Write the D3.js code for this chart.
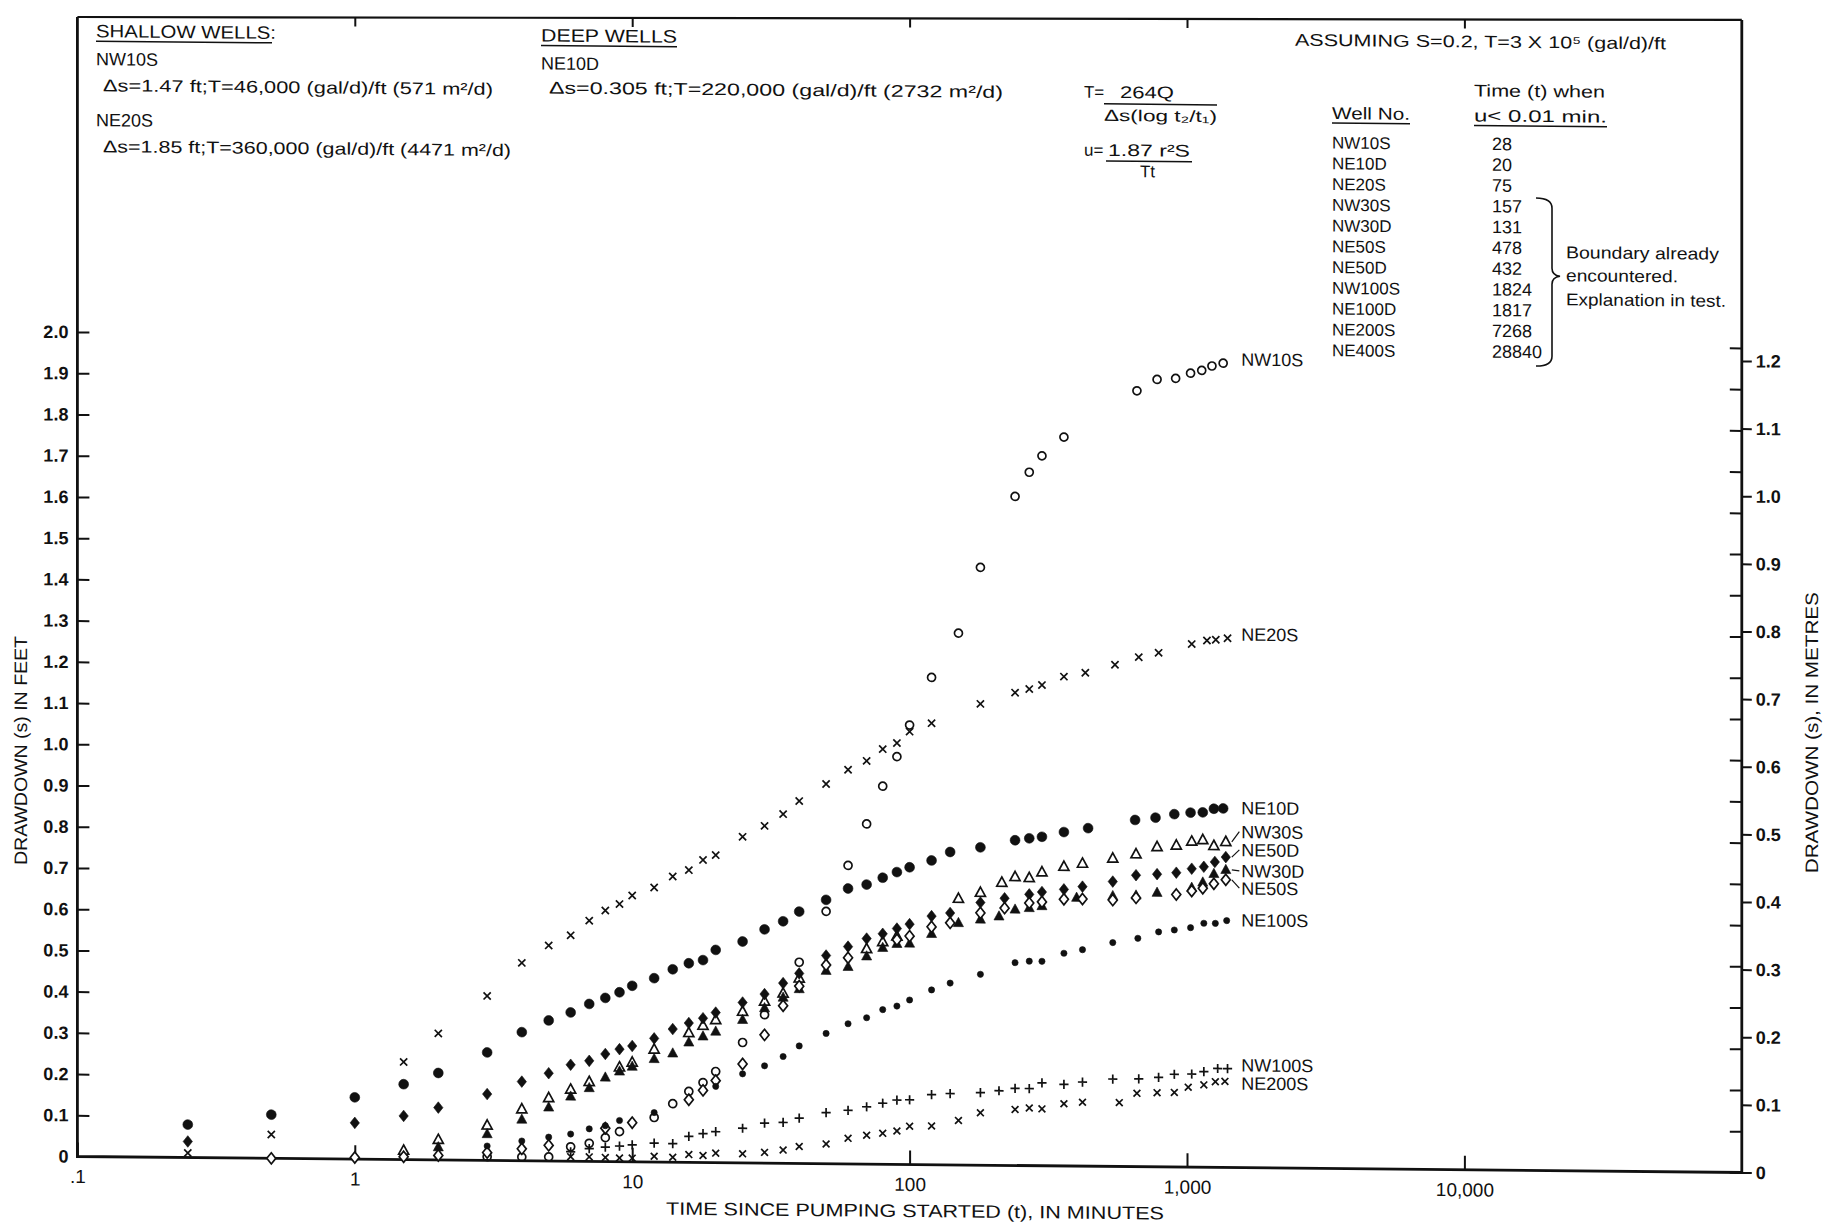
<!DOCTYPE html>
<html>
<head>
<meta charset="utf-8">
<script src="https://cdn.jsdelivr.net/npm/d3@7"></script>
<style>
  body { margin: 0; background: #fff; }
  svg text { font-family: "Liberation Sans", Arial, "DejaVu Sans", sans-serif; fill: #111; }
</style>
</head>
<body>
<div id="chart"></div>
<script>
// ---- data: [time (min), drawdown (ft)] ----
const nw10sData = [[3,0.009],[4,0.009],[5,0.010],[6,0.035],[7,0.044],[8,0.058],[9,0.073],[12,0.108],[14,0.142],[16,0.172],[18,0.194],[20,0.221],[25,0.292],[30,0.360],[40,0.488],[50,0.612],[60,0.724],[70,0.825],[80,0.917],[90,0.989],[100,1.066],[120,1.182],[150,1.290],[180,1.450],[240,1.623],[270,1.682],[300,1.722],[360,1.768],[660,1.882],[780,1.910],[910,1.913],[1030,1.926],[1130,1.933],[1230,1.944],[1350,1.951]];

const ne20sData = [[0.25,0.011],[0.5,0.058],[1.5,0.237],[2,0.307],[3,0.399],[4,0.480],[5,0.523],[6,0.548],[7,0.584],[8,0.609],[9,0.625],[10,0.646],[12,0.666],[14,0.693],[16,0.709],[18,0.734],[20,0.746],[25,0.791],[30,0.818],[35,0.847],[40,0.879],[50,0.921],[60,0.956],[70,0.978],[80,1.007],[90,1.022],[100,1.050],[120,1.071],[180,1.119],[240,1.147],[270,1.156],[300,1.166],[360,1.187],[430,1.197],[550,1.217],[670,1.236],[790,1.247],[1040,1.269],[1180,1.278],[1270,1.280],[1400,1.284]];

const ne10dData = [[0.25,0.080],[0.5,0.106],[1,0.150],[1.5,0.183],[2,0.211],[3,0.262],[4,0.312],[5,0.341],[6,0.361],[7,0.382],[8,0.397],[9,0.411],[10,0.427],[12,0.446],[14,0.468],[16,0.483],[18,0.491],[20,0.516],[25,0.537],[30,0.567],[35,0.587],[40,0.611],[50,0.640],[60,0.668],[70,0.678],[80,0.695],[90,0.709],[100,0.721],[120,0.738],[140,0.759],[180,0.771],[240,0.789],[270,0.794],[300,0.798],[360,0.810],[440,0.820],[650,0.841],[770,0.847],[900,0.856],[1030,0.860],[1140,0.861],[1250,0.870],[1350,0.871]];

const nw30sData = [[1.5,0.022],[2,0.049],[3,0.085],[4,0.125],[5,0.153],[6,0.174],[7,0.193],[9,0.229],[10,0.241],[12,0.273],[16,0.314],[18,0.332],[20,0.346],[25,0.367],[30,0.392],[35,0.412],[40,0.449],[70,0.522],[80,0.539],[90,0.553],[150,0.646],[180,0.661],[215,0.686],[240,0.700],[270,0.698],[300,0.712],[360,0.726],[420,0.734],[540,0.747],[655,0.758],[780,0.776],[915,0.780],[1040,0.790],[1140,0.794],[1250,0.780],[1380,0.790]];

const nw30dData = [[2,0.031],[3,0.064],[4,0.100],[5,0.130],[6,0.157],[7,0.178],[8,0.204],[9,0.219],[10,0.231],[12,0.250],[14,0.264],[16,0.291],[18,0.306],[20,0.318],[25,0.347],[30,0.376],[35,0.402],[40,0.423],[50,0.468],[60,0.478],[70,0.504],[80,0.525],[90,0.535],[100,0.536],[120,0.560],[150,0.587],[180,0.596],[210,0.604],[240,0.621],[270,0.625],[300,0.630],[400,0.651],[540,0.656],[655,0.658],[780,0.665],[1040,0.678],[1140,0.691],[1250,0.712],[1380,0.722]];

const ne50dData = [[0.25,0.039],[1,0.088],[1.5,0.106],[2,0.127],[3,0.161],[4,0.192],[5,0.213],[6,0.234],[7,0.244],[8,0.261],[9,0.273],[10,0.281],[12,0.300],[14,0.323],[16,0.338],[18,0.350],[20,0.364],[25,0.389],[30,0.410],[35,0.437],[40,0.461],[50,0.505],[60,0.527],[70,0.547],[80,0.559],[90,0.572],[100,0.583],[120,0.603],[140,0.611],[180,0.637],[220,0.648],[270,0.658],[300,0.664],[360,0.671],[420,0.678],[540,0.691],[655,0.707],[780,0.710],[915,0.714],[1040,0.724],[1150,0.729],[1260,0.741],[1380,0.753]];

const ne50sData = [[0.5,0.0],[1,0.004],[1.5,0.007],[2,0.011],[3,0.019],[4,0.029],[5,0.038],[8,0.081],[10,0.095],[16,0.152],[18,0.175],[20,0.199],[25,0.240],[30,0.311],[35,0.382],[40,0.430],[50,0.482],[60,0.500],[90,0.545],[100,0.554],[120,0.577],[140,0.587],[180,0.612],[220,0.624],[270,0.637],[300,0.640],[360,0.647],[420,0.648],[540,0.646],[655,0.652],[915,0.661],[1040,0.670],[1140,0.677],[1250,0.688],[1380,0.698]];

const ne100sData = [[3,0.035],[4,0.048],[5,0.058],[6,0.066],[7,0.079],[8,0.087],[9,0.100],[12,0.120],[20,0.185],[25,0.216],[30,0.236],[35,0.259],[40,0.285],[50,0.316],[60,0.340],[70,0.355],[80,0.375],[90,0.384],[100,0.399],[120,0.424],[140,0.441],[180,0.463],[240,0.492],[270,0.496],[300,0.496],[360,0.516],[420,0.525],[540,0.543],[665,0.554],[790,0.570],[900,0.575],[1030,0.581],[1150,0.592],[1265,0.592],[1390,0.599]];

const nw100sData = [[6,0.023],[7,0.031],[8,0.035],[9,0.038],[10,0.041],[12,0.046],[14,0.045],[16,0.063],[18,0.070],[20,0.075],[25,0.084],[30,0.097],[35,0.099],[40,0.110],[50,0.124],[60,0.130],[70,0.139],[80,0.148],[90,0.156],[100,0.157],[120,0.170],[140,0.173],[180,0.176],[210,0.181],[240,0.187],[270,0.187],[300,0.201],[360,0.198],[420,0.204],[540,0.212],[670,0.213],[790,0.217],[900,0.225],[1040,0.226],[1150,0.232],[1290,0.240],[1400,0.240]];

const ne200sData = [[6,0.011],[7,0.011],[8,0.010],[9,0.009],[10,0.009],[12,0.014],[14,0.012],[16,0.019],[18,0.017],[20,0.023],[25,0.022],[30,0.026],[35,0.032],[40,0.041],[50,0.048],[60,0.062],[70,0.070],[80,0.075],[90,0.081],[100,0.093],[120,0.094],[150,0.108],[180,0.127],[240,0.136],[270,0.140],[300,0.138],[360,0.151],[420,0.155],[570,0.155],[660,0.178],[780,0.180],[900,0.181],[1010,0.194],[1150,0.200],[1265,0.208],[1370,0.209]];

// curve labels at the right end, and the drawdown level each label sits at
const seriesNames = ["NW10S", "NE20S", "NE10D", "NW30S", "NE50D", "NW30D", "NE50S", "NE100S", "NW100S", "NE200S"];
const labelLevels = [1.961, 1.294, 0.873, 0.815, 0.771, 0.720, 0.678, 0.601, 0.249, 0.205];

// table of times when u < 0.01
const wellNos = ["NW10S", "NE10D", "NE20S", "NW30S", "NW30D", "NE50S", "NE50D", "NW100S", "NE100D", "NE200S", "NE400S"];
const uTimes = ["28", "20", "75", "157", "131", "478", "432", "1824", "1817", "7268", "28840"];

// tick values and labels
const timeTicks = [0.1, 1, 10, 100, 1000, 10000];
const timeTickLabels = [".1", "1", "10", "100", "1,000", "10,000"];
const feetTicks = d3.range(0, 21).map(i => i / 10);
const metreTicks = d3.range(0, 13).map(i => i / 10);

// ---- svg ----
let width = 1839, height = 1226;
let svg = d3.select("#chart")
  .append("svg")
  .attr("width", width)
  .attr("height", height);

svg.append("rect").attr("width", width).attr("height", height).attr("fill", "white");

// the scanned sheet is slightly sheared, right side lower
let g = svg.append("g")
  .attr("transform", "translate(77,0) skewY(0.55) translate(-77,0)");
// the top border is almost level on the scan
let gTop = svg.append("g")
  .attr("transform", "translate(77,0) skewY(0.1) translate(-77,0)");

// scales
let x = d3.scaleLog()
  .domain([0.1, 100000])
  .range([77.4, 1741.8]);

let y = d3.scaleLinear()
  .domain([0, 2])
  .range([1156.5, 332]);

// metre scale as it is drawn on the sheet
let yM = d3.scaleLinear()
  .domain([0, 1.2])
  .range([y(0), y(1.2 * 1.6404)]);

let topY = 17;
let left = x.range()[0], right = x.range()[1];
let rightTop = topY + Math.tan(0.1 * Math.PI / 180) * (right - 77) - Math.tan(0.55 * Math.PI / 180) * (right - 77);

// frame: left, right and bottom lines
g.append("path")
  .attr("d", `M${left},${topY}L${left},${y(0)}L${right},${y(0)}L${right},${rightTop}`)
  .attr("fill", "none")
  .attr("stroke", "#111")
  .attr("stroke-width", 2.8);

// top border with short decade ticks
gTop.append("line")
  .attr("x1", left).attr("x2", right)
  .attr("y1", topY).attr("y2", topY)
  .attr("stroke", "#111")
  .attr("stroke-width", 2.2);

let xAxisTop = gTop.append("g")
  .attr("transform", `translate(0,${topY})`)
  .call(d3.axisTop(x).tickValues(timeTicks.slice(1)).tickSize(-9).tickFormat(""));
xAxisTop.select(".domain").remove();
xAxisTop.selectAll("line").attr("stroke", "#111").attr("stroke-width", 2);

// left axis (feet)
let yAxisL = g.append("g")
  .attr("transform", `translate(${left},0)`)
  .call(d3.axisLeft(y).tickValues(feetTicks).tickSize(-12).tickPadding(9)
    .tickFormat(d => d === 0 ? "0" : d.toFixed(1)));
yAxisL.select(".domain").remove();
yAxisL.selectAll("line").attr("stroke", "#111").attr("stroke-width", 2);
yAxisL.selectAll("text").style("font-size", "18px").style("font-weight", "bold");

// right axis: inner feet ticks and outer metre ticks
let yAxisRin = g.append("g")
  .attr("transform", `translate(${right},0)`)
  .call(d3.axisLeft(y).tickValues(feetTicks).tickSize(12).tickFormat(""));
yAxisRin.select(".domain").remove();
yAxisRin.selectAll("line").attr("stroke", "#111").attr("stroke-width", 2);

let yAxisR = g.append("g")
  .attr("transform", `translate(${right},0)`)
  .call(d3.axisRight(yM).tickValues(metreTicks).tickSize(10).tickPadding(4)
    .tickFormat(d => d === 0 ? "0" : d.toFixed(1)));
yAxisR.select(".domain").remove();
yAxisR.selectAll("line").attr("stroke", "#111").attr("stroke-width", 2);
yAxisR.selectAll("text").style("font-size", "18px").style("font-weight", "bold");

// bottom axis (log time)
let xAxis = g.append("g")
  .attr("transform", `translate(0,${y(0)})`)
  .call(d3.axisBottom(x).tickValues(timeTicks).tickSize(-14).tickPadding(13)
    .tickFormat((d, i) => timeTickLabels[i]));
xAxis.select(".domain").remove();
xAxis.selectAll("line").attr("stroke", "#111").attr("stroke-width", 2);
xAxis.selectAll("text").style("font-size", "19px");

// axis titles
g.append("text")
  .attr("x", 915)
  .attr("y", 1209)
  .attr("text-anchor", "middle")
  .attr("textLength", 498)
  .attr("lengthAdjust", "spacingAndGlyphs")
  .style("font-size", "18px")
  .text("TIME SINCE PUMPING STARTED (t), IN MINUTES");

g.append("text")
  .attr("transform", "rotate(-90)")
  .attr("x", -751)
  .attr("y", 27)
  .attr("text-anchor", "middle")
  .attr("textLength", 229)
  .attr("lengthAdjust", "spacingAndGlyphs")
  .style("font-size", "18px")
  .text("DRAWDOWN (s) IN FEET");

g.append("text")
  .attr("transform", "rotate(-90)")
  .attr("x", -716)
  .attr("y", 1818)
  .attr("text-anchor", "middle")
  .attr("textLength", 281)
  .attr("lengthAdjust", "spacingAndGlyphs")
  .style("font-size", "18px")
  .text("DRAWDOWN (s), IN METRES");

// ---- markers ----
function markPath(shape, r) {
  if (shape === "circle") return d3.symbol(d3.symbolCircle, Math.PI * r * r)();
  if (shape === "triangle") return `M0,${-r}L${r * 0.9},${r * 0.65}L${-r * 0.9},${r * 0.65}Z`;
  if (shape === "diamond") return `M0,${-r}L${r * 0.8},0L0,${r}L${-r * 0.8},0Z`;
  if (shape === "x") return `M${-r},${-r}L${r},${r}M${-r},${r}L${r},${-r}`;
  if (shape === "plus") return `M${-r},0L${r},0M0,${-r}L0,${r}`;
}

const series = [
  {name: "NW10S", data: nw10sData, shape: "circle", r: 4, fill: "none"},
  {name: "NE20S", data: ne20sData, shape: "x", r: 3.6, fill: "none"},
  {name: "NE10D", data: ne10dData, shape: "circle", r: 4.9, fill: "#111"},
  {name: "NW30S", data: nw30sData, shape: "triangle", r: 5.6, fill: "white"},
  {name: "NE50D", data: ne50dData, shape: "diamond", r: 5.8, fill: "#111"},
  {name: "NW30D", data: nw30dData, shape: "triangle", r: 5.6, fill: "#111"},
  {name: "NE50S", data: ne50sData, shape: "diamond", r: 5.6, fill: "white"},
  {name: "NE100S", data: ne100sData, shape: "circle", r: 3.1, fill: "#111"},
  {name: "NW100S", data: nw100sData, shape: "plus", r: 4.6, fill: "none"},
  {name: "NE200S", data: ne200sData, shape: "x", r: 3.4, fill: "none"}
];

series.forEach(function(s) {
  g.append("g")
    .selectAll("path")
    .data(s.data)
    .enter()
    .append("path")
    .attr("transform", d => `translate(${x(d[0])},${y(d[1])})`)
    .attr("d", markPath(s.shape, s.r))
    .attr("fill", s.fill)
    .attr("stroke", "#111")
    .attr("stroke-width", s.fill === "#111" ? 0.6 : 1.7);
});

// curve labels with short leaders for the crowded group
let labelT = 1570;
seriesNames.forEach(function(name, i) {
  g.append("text")
    .attr("x", x(labelT))
    .attr("y", y(labelLevels[i]))
    .attr("dy", "0.36em")
    .style("font-size", "18px")
    .text(name);
});

["NW30S", "NE50D", "NW30D", "NE50S"].forEach(function(name) {
  let s = series.find(d => d.name === name);
  let last = s.data[s.data.length - 1];
  let lv = labelLevels[seriesNames.indexOf(name)];
  g.append("line")
    .attr("x1", x(last[0]) + 6)
    .attr("y1", y(last[1]))
    .attr("x2", x(labelT) - 2)
    .attr("y2", y(lv))
    .attr("stroke", "#111")
    .attr("stroke-width", 1.2);
});

// ---- header notes ----
function note(str, px, py, size, len) {
  let t = g.append("text")
    .attr("x", px)
    .attr("y", py)
    .style("font-size", size + "px")
    .text(str);
  if (len) t.attr("textLength", len).attr("lengthAdjust", "spacingAndGlyphs");
  return t;
}
function rule(x1, x2, yy, w) {
  g.append("line")
    .attr("x1", x1).attr("x2", x2)
    .attr("y1", yy).attr("y2", yy)
    .attr("stroke", "#111")
    .attr("stroke-width", w || 1.5);
}

note("SHALLOW WELLS:", 96, 37, 18, 180);
rule(96, 272, 41);
note("NW10S", 96, 65, 18);
note("\u0394s=1.47 ft;T=46,000 (gal/d)/ft (571 m\u00b2/d)", 103, 91, 17, 390);
note("NE20S", 96, 126, 18);
note("\u0394s=1.85 ft;T=360,000 (gal/d)/ft (4471 m\u00b2/d)", 103, 152, 17, 408);

note("DEEP WELLS", 541, 37, 18, 136);
rule(541, 677, 41);
note("NE10D", 541, 65, 18);
note("\u0394s=0.305 ft;T=220,000 (gal/d)/ft (2732 m\u00b2/d)", 549, 89, 17, 454);

note("ASSUMING S=0.2, T=3 X 10\u2075 (gal/d)/ft", 1295, 34, 17, 371);

// formulas
note("T=", 1084, 88, 17);
note("264Q", 1120, 88, 17, 54);
rule(1104, 1217, 94);
note("\u0394s(log t\u2082/t\u2081)", 1104, 111, 16, 113);
note("u=", 1084, 146, 17);
note("1.87 r\u00b2S", 1108, 146, 17, 82);
rule(1106, 1192, 151);
note("Tt", 1140, 167, 17);

// table
note("Well No.", 1332, 107, 17, 78);
rule(1332, 1410, 111);
note("Time (t) when", 1474, 83, 17, 131);
note("u< 0.01 min.", 1474, 108, 17, 133);
rule(1474, 1607, 112);

wellNos.forEach(function(w, i) {
  note(w, 1332, 136.5 + 20.76 * i, 17);
  note(uTimes[i], 1492, 136.5 + 20.76 * i, 18);
});

// brace for the boundary wells
g.append("path")
  .attr("d", "M1536,184 Q1552,184 1552,194 L1552,254 Q1552,261 1560,262 Q1552,263 1552,270 L1552,342 Q1552,352 1536,352")
  .attr("fill", "none")
  .attr("stroke", "#111")
  .attr("stroke-width", 1.6);

note("Boundary already", 1566, 244, 17, 153);
note("encountered.", 1566, 267, 17, 112);
note("Explanation in test.", 1566, 291, 17, 160);
</script>
</body>
</html>
